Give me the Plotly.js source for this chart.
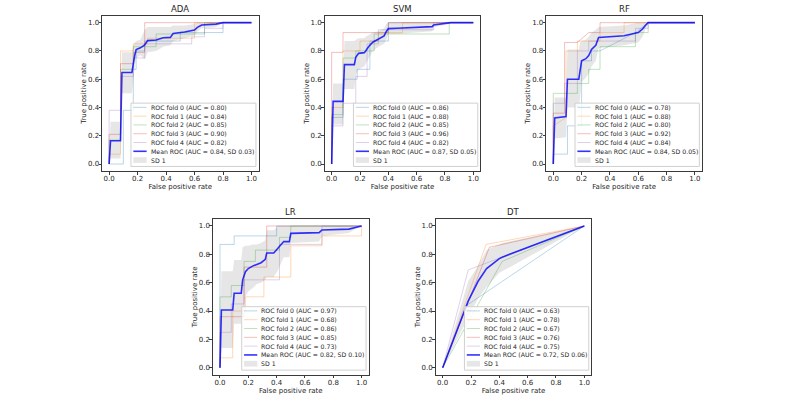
<!DOCTYPE html>
<html>
<head>
<meta charset="utf-8">
<script src="https://cdn.plot.ly/plotly-3.0.1.min.js"></script>
<style>
  html, body { margin: 0; padding: 0; background: #ffffff; }
  #chart { width: 800px; height: 395px; }
</style>
</head>
<body>
<div id="chart"></div>
<script>
// ---------- ADA ----------
const adaFoldFpr = [
  [0, 0.10, 0.10, 0.17, 0.17, 0.19, 0.19, 0.25, 0.25, 0.50, 0.50, 0.80, 0.80, 1],
  [0, 0, 0.08, 0.08, 0.17, 0.17, 0.27, 0.27, 0.60, 0.60, 1],
  [0, 0, 0.08, 0.08, 0.17, 0.17, 0.33, 0.33, 0.67, 0.67, 1],
  [0, 0, 0.08, 0.08, 0.17, 0.17, 0.25, 0.25, 1],
  [0, 0, 0.08, 0.08, 0.17, 0.17, 0.25, 0.25, 0.58, 0.58, 0.67, 0.67, 0.80, 0.80, 1]
];
const adaFoldTpr = [
  [0, 0, 0.38, 0.38, 0.67, 0.67, 0.80, 0.80, 0.87, 0.87, 0.93, 0.93, 1, 1],
  [0, 0.07, 0.07, 0.80, 0.80, 0.85, 0.85, 0.89, 0.89, 1, 1],
  [0, 0.17, 0.17, 0.67, 0.67, 0.83, 0.83, 0.92, 0.92, 1, 1],
  [0, 0.21, 0.21, 0.71, 0.71, 0.79, 0.79, 1, 1],
  [0, 0.38, 0.38, 0.62, 0.62, 0.75, 0.75, 0.85, 0.85, 0.90, 0.90, 0.96, 0.96, 1, 1]
];
const adaAuc = [0.80, 0.84, 0.85, 0.90, 0.82];
const adaMeanAuc = 0.84, adaSd = 0.03;
const adaMeanFpr = [0, 0.01, 0.08, 0.09, 0.16, 0.17, 0.18, 0.19, 0.22, 0.25, 0.27, 0.33, 0.38, 0.43, 0.45, 0.53, 0.60, 0.62, 0.65, 0.75, 0.80, 1.0];
const adaMeanTpr = [0, 0.165, 0.165, 0.648, 0.648, 0.72, 0.77, 0.81, 0.822, 0.842, 0.873, 0.877, 0.893, 0.896, 0.924, 0.934, 0.948, 0.967, 0.984, 0.99, 1.0, 1.0];
const adaUpper = [0, 0.30, 0.30, 0.79, 0.79, 0.84, 0.86, 0.87, 0.88, 0.95, 0.97, 0.97, 0.97, 0.97, 0.98, 0.98, 0.99, 1, 1, 1, 1, 1];
const adaLower = [0, 0.04, 0.04, 0.50, 0.50, 0.61, 0.69, 0.75, 0.77, 0.74, 0.79, 0.80, 0.83, 0.84, 0.87, 0.89, 0.91, 0.94, 0.96, 0.97, 1, 1];

// ---------- SVM ----------
const svmFoldFpr = [
  [0, 0, 0.08, 0.08, 0.18, 0.18, 0.27, 0.27, 0.40, 0.40, 1],
  [0, 0, 0.08, 0.08, 0.20, 0.20, 0.33, 0.33, 0.50, 0.50, 1],
  [0, 0, 0.08, 0.08, 0.17, 0.17, 0.30, 0.30, 0.83, 0.83, 1],
  [0, 0, 0.08, 0.08, 0.40, 0.40, 1],
  [0, 0, 0.08, 0.08, 0.17, 0.17, 0.25, 0.25, 0.33, 0.33, 0.72, 0.72, 1]
];
const svmFoldTpr = [
  [0, 0.33, 0.33, 0.60, 0.60, 0.67, 0.67, 0.87, 0.87, 1, 1],
  [0, 0.40, 0.40, 0.80, 0.80, 0.87, 0.87, 0.93, 0.93, 1, 1],
  [0, 0.35, 0.35, 0.75, 0.75, 0.80, 0.80, 0.92, 0.92, 1, 1],
  [0, 0.79, 0.79, 0.93, 0.93, 1, 1],
  [0, 0.27, 0.27, 0.43, 0.43, 0.62, 0.62, 0.85, 0.85, 0.95, 0.95, 1, 1]
];
const svmAuc = [0.86, 0.88, 0.85, 0.96, 0.82];
const svmMeanAuc = 0.87, svmSd = 0.05;
const svmMeanFpr = [0, 0.01, 0.08, 0.09, 0.16, 0.17, 0.19, 0.23, 0.24, 0.26, 0.29, 0.33, 0.37, 0.385, 0.40, 0.46, 0.71, 0.72, 0.83, 0.84, 1.0];
const svmMeanTpr = [0, 0.443, 0.443, 0.703, 0.703, 0.755, 0.783, 0.788, 0.80, 0.83, 0.862, 0.885, 0.906, 0.936, 0.958, 0.96, 0.972, 0.984, 0.995, 1.0, 1.0];
const svmUpper = [0, 0.57, 0.57, 0.87, 0.87, 0.88, 0.89, 0.89, 0.90, 0.91, 0.93, 0.94, 0.96, 0.99, 1, 1, 1, 1, 1, 1, 1];
const svmLower = [0, 0.28, 0.28, 0.53, 0.53, 0.63, 0.67, 0.69, 0.71, 0.75, 0.80, 0.83, 0.85, 0.88, 0.92, 0.92, 0.94, 0.97, 0.99, 1, 1];

// ---------- RF ----------
const rfFoldFpr = [
  [0, 0, 0.10, 0.10, 0.20, 0.20, 0.27, 0.27, 0.33, 0.58, 0.67, 1],
  [0, 0, 0.09, 0.09, 0.17, 0.17, 0.33, 0.33, 0.50, 0.50, 1],
  [0, 0, 0.17, 0.17, 0.25, 0.25, 0.33, 0.33, 0.58, 0.58, 0.67, 0.67, 1],
  [0, 0, 0.08, 0.08, 0.17, 0.25, 0.33, 0.33, 1],
  [0, 0, 0.08, 0.08, 0.17, 0.17, 0.25, 0.25, 0.58, 0.58, 0.67, 0.67, 1]
];
const rfFoldTpr = [
  [0, 0.07, 0.07, 0.27, 0.27, 0.73, 0.73, 0.80, 0.80, 0.93, 1, 1],
  [0, 0.27, 0.33, 0.80, 0.80, 0.87, 0.87, 0.93, 0.93, 1, 1],
  [0, 0.50, 0.50, 0.57, 0.57, 0.67, 0.67, 0.83, 0.83, 0.93, 0.93, 1, 1],
  [0, 0.36, 0.36, 0.86, 0.86, 0.93, 0.93, 1, 1],
  [0, 0.43, 0.43, 0.57, 0.57, 0.80, 0.80, 0.87, 0.87, 0.96, 0.96, 1, 1]
];
const rfAuc = [0.78, 0.88, 0.80, 0.92, 0.84];
const rfMeanAuc = 0.84, rfSd = 0.05;
const rfMeanFpr = [0, 0.01, 0.09, 0.10, 0.18, 0.19, 0.20, 0.23, 0.25, 0.27, 0.30, 0.32, 0.50, 0.60, 0.63, 0.65, 0.67, 1.0];
const rfMeanTpr = [0, 0.326, 0.336, 0.60, 0.60, 0.66, 0.73, 0.745, 0.767, 0.81, 0.84, 0.895, 0.908, 0.93, 0.955, 0.98, 1.0, 1.0];
const rfUpper = [0, 0.47, 0.47, 0.81, 0.81, 0.86, 0.87, 0.88, 0.90, 0.93, 0.95, 0.97, 0.98, 1, 1, 1, 1, 1];
const rfLower = [0, 0.18, 0.19, 0.40, 0.40, 0.47, 0.58, 0.61, 0.64, 0.69, 0.73, 0.82, 0.84, 0.86, 0.90, 0.95, 1, 1];

// ---------- LR ----------
const lrFoldFpr = [
  [0, 0, 0.10, 0.10, 0.40, 0.40, 1],
  [0, 0, 0.09, 0.09, 0.18, 0.18, 0.31, 0.31, 0.50, 0.50, 0.72, 0.72, 1, 1],
  [0, 0, 0.08, 0.08, 0.17, 0.17, 0.25, 0.25, 0.42, 0.42, 0.50, 0.50, 1],
  [0, 0, 0.17, 0.17, 0.33, 0.33, 1],
  [0, 0, 0.08, 0.08, 0.17, 0.17, 0.42, 0.42, 0.72, 0.72, 1]
];
const lrFoldTpr = [
  [0, 0.87, 0.87, 0.93, 0.93, 1, 1],
  [0, 0.07, 0.07, 0.40, 0.40, 0.50, 0.50, 0.64, 0.64, 0.86, 0.86, 0.93, 0.93, 1],
  [0, 0.50, 0.50, 0.58, 0.58, 0.75, 0.75, 0.83, 0.83, 0.92, 0.92, 1, 1],
  [0, 0.36, 0.36, 0.71, 0.71, 1, 1],
  [0, 0.25, 0.25, 0.45, 0.45, 0.62, 0.62, 0.87, 0.87, 1, 1]
];
const lrAuc = [0.97, 0.68, 0.86, 0.85, 0.73];
const lrMeanAuc = 0.82, lrSd = 0.10;
const lrMeanFpr = [0, 0.01, 0.09, 0.10, 0.15, 0.16, 0.18, 0.20, 0.23, 0.26, 0.29, 0.32, 0.33, 0.38, 0.41, 0.45, 0.49, 0.50, 0.70, 0.72, 0.91, 0.99, 1.0];
const lrMeanTpr = [0, 0.407, 0.407, 0.525, 0.525, 0.62, 0.677, 0.70, 0.717, 0.729, 0.741, 0.765, 0.81, 0.81, 0.847, 0.89, 0.89, 0.948, 0.953, 0.972, 0.978, 1.0, 1.0];
const lrUpper = [0, 0.68, 0.68, 0.76, 0.76, 0.85, 0.86, 0.86, 0.87, 0.87, 0.88, 0.90, 0.97, 0.97, 1, 1, 1, 1, 1, 1, 1, 1, 1];
const lrLower = [0, 0.14, 0.14, 0.31, 0.31, 0.40, 0.50, 0.54, 0.56, 0.59, 0.60, 0.62, 0.64, 0.64, 0.69, 0.78, 0.78, 0.88, 0.89, 0.93, 0.95, 1, 1];

// ---------- DT ----------
const dtFoldFpr = [
  [0, 0.17, 1],
  [0, 0.306, 1],
  [0, 0.42, 1],
  [0, 0.33, 1],
  [0, 0.18, 1]
];
const dtFoldTpr = [
  [0, 0.44, 1],
  [0, 0.87, 1],
  [0, 0.75, 1],
  [0, 0.85, 1],
  [0, 0.69, 1]
];
const dtAuc = [0.63, 0.78, 0.67, 0.76, 0.75];
const dtMeanAuc = 0.72, dtSd = 0.06;
const dtMeanFpr = [0, 0.18, 0.25, 0.31, 0.40, 0.42, 1.0];
const dtMeanTpr = [0, 0.47, 0.61, 0.70, 0.77, 0.78, 1.0];
const dtUpper = [0, 0.61, 0.72, 0.83, 0.87, 0.88, 1.0];
const dtLower = [0, 0.36, 0.49, 0.57, 0.67, 0.68, 1.0];

// ---------- panel setup ----------
const panels = [
  {title: 'ADA', ax: '',  foldFpr: adaFoldFpr, foldTpr: adaFoldTpr, auc: adaAuc, meanAuc: adaMeanAuc, sd: adaSd,
   meanFpr: adaMeanFpr, meanTpr: adaMeanTpr, upper: adaUpper, lower: adaLower, xd: [0.1275, 0.32325], row: 0},
  {title: 'SVM', ax: '2', foldFpr: svmFoldFpr, foldTpr: svmFoldTpr, auc: svmAuc, meanAuc: svmMeanAuc, sd: svmSd,
   meanFpr: svmMeanFpr, meanTpr: svmMeanTpr, upper: svmUpper, lower: svmLower, xd: [0.40575, 0.6005], row: 0},
  {title: 'RF',  ax: '3', foldFpr: rfFoldFpr, foldTpr: rfFoldTpr, auc: rfAuc, meanAuc: rfMeanAuc, sd: rfSd,
   meanFpr: rfMeanFpr, meanTpr: rfMeanTpr, upper: rfUpper, lower: rfLower, xd: [0.68275, 0.8775], row: 0},
  {title: 'LR',  ax: '4', foldFpr: lrFoldFpr, foldTpr: lrFoldTpr, auc: lrAuc, meanAuc: lrMeanAuc, sd: lrSd,
   meanFpr: lrMeanFpr, meanTpr: lrMeanTpr, upper: lrUpper, lower: lrLower, xd: [0.266125, 0.460875], row: 1},
  {title: 'DT',  ax: '5', foldFpr: dtFoldFpr, foldTpr: dtFoldTpr, auc: dtAuc, meanAuc: dtMeanAuc, sd: dtSd,
   meanFpr: dtMeanFpr, meanTpr: dtMeanTpr, upper: dtUpper, lower: dtLower, xd: [0.5445, 0.73925], row: 1}
];
const rowDomains = [[0.5668, 0.9605], [0.0511, 0.4458]];

const FONT = 'DejaVu Sans, Arial, sans-serif';
const TEXT = '#262626';
const foldColors = ['rgba(31,119,180,0.3)', 'rgba(255,127,14,0.3)', 'rgba(44,160,44,0.3)',
                    'rgba(214,39,40,0.3)', 'rgba(148,103,189,0.3)'];
const meanColor = 'rgba(0,0,255,0.8)';
const bandColor = 'rgba(128,128,128,0.2)';

const traces = [];
const shapes = [];
const annotations = [];
const layout = {
  width: 800, height: 395,
  margin: {l: 0, r: 0, t: 0, b: 0},
  paper_bgcolor: '#ffffff', plot_bgcolor: '#ffffff',
  showlegend: false,
  font: {family: FONT, size: 7, color: TEXT}
};

// legend geometry, in axis-domain fractions
const LG = {x0: 0.185, x1: 0.983, y0: 0.03, y1: 0.437,
            row0: 0.41, step: 0.0565, s0: 0.20, s1: 0.285, tx: 0.305};

panels.forEach(p => {
  const xa = 'x' + p.ax, ya = 'y' + p.ax;
  const axisCommon = {
    range: [-0.05, 1.05], tickvals: [0, 0.2, 0.4, 0.6, 0.8, 1.0], tickformat: '.1f',
    showgrid: false, zeroline: false, showline: true, mirror: true,
    linecolor: '#3a3a3a', linewidth: 1, ticks: 'outside', ticklen: 2.5, tickwidth: 1,
    tickcolor: '#3a3a3a', tickfont: {family: FONT, size: 7, color: TEXT}, fixedrange: true,
    ticklabelstandoff: -2
  };
  layout['xaxis' + p.ax] = Object.assign({}, axisCommon, {
    domain: p.xd, anchor: ya,
    title: {text: 'False positive rate', font: {family: FONT, size: 7, color: TEXT}, standoff: 2}
  });
  layout['yaxis' + p.ax] = Object.assign({}, axisCommon, {
    domain: rowDomains[p.row], anchor: xa,
    title: {text: 'True positive rate', font: {family: FONT, size: 7, color: TEXT}, standoff: 0}
  });

  // ±1 SD band
  traces.push({x: p.meanFpr, y: p.lower, xaxis: xa, yaxis: ya, mode: 'lines',
               line: {width: 0, color: 'rgba(0,0,0,0)'}, hoverinfo: 'skip'});
  traces.push({x: p.meanFpr, y: p.upper, xaxis: xa, yaxis: ya, mode: 'lines', fill: 'tonexty',
               fillcolor: bandColor, line: {width: 0, color: 'rgba(0,0,0,0)'}, hoverinfo: 'skip'});
  // individual folds
  p.foldFpr.forEach((fx, i) => {
    traces.push({x: fx, y: p.foldTpr[i], xaxis: xa, yaxis: ya, mode: 'lines',
                 name: 'ROC fold ' + i, line: {color: foldColors[i], width: 1}});
  });
  // mean curve
  traces.push({x: p.meanFpr, y: p.meanTpr, xaxis: xa, yaxis: ya, mode: 'lines',
               name: 'Mean ROC', line: {color: meanColor, width: 1.6}});

  // panel title
  annotations.push({text: p.title, xref: xa + ' domain', yref: ya + ' domain', x: 0.5, y: 1,
                    xanchor: 'center', yanchor: 'bottom', showarrow: false, yshift: 0,
                    font: {family: FONT, size: 8.5, color: TEXT}});

  // legend box
  const xr = xa + ' domain', yr = ya + ' domain';
  shapes.push({type: 'rect', xref: xr, yref: yr, x0: LG.x0, x1: LG.x1, y0: LG.y0, y1: LG.y1,
               fillcolor: 'rgba(255,255,255,0.8)', line: {color: '#d0d0d0', width: 1}, layer: 'above'});
  const labels = p.auc.map((a, i) => 'ROC fold ' + i + ' (AUC = ' + a.toFixed(2) + ')');
  labels.push('Mean ROC (AUC = ' + p.meanAuc.toFixed(2) + ', SD ' + p.sd.toFixed(2) + ')');
  labels.push('SD 1');
  const swatch = foldColors.concat([meanColor]);
  labels.forEach((lab, i) => {
    const yy = LG.row0 - i * LG.step;
    if (i < 6) {
      shapes.push({type: 'line', xref: xr, yref: yr, x0: LG.s0, x1: LG.s1, y0: yy, y1: yy,
                   line: {color: swatch[i], width: i === 5 ? 1.6 : 1}, layer: 'above'});
    } else {
      shapes.push({type: 'rect', xref: xr, yref: yr, x0: LG.s0, x1: LG.s1, y0: yy - 0.018, y1: yy + 0.018,
                   fillcolor: bandColor, line: {width: 0}, layer: 'above'});
    }
    annotations.push({text: lab, xref: xr, yref: yr, x: LG.tx, y: yy, xanchor: 'left', yanchor: 'middle',
                      showarrow: false, borderpad: 0, font: {family: FONT, size: 6.2, color: TEXT}});
  });
});

layout.shapes = shapes;
layout.annotations = annotations;

Plotly.newPlot('chart', traces, layout, {staticPlot: true, displayModeBar: false});
</script>
</body>
</html>
